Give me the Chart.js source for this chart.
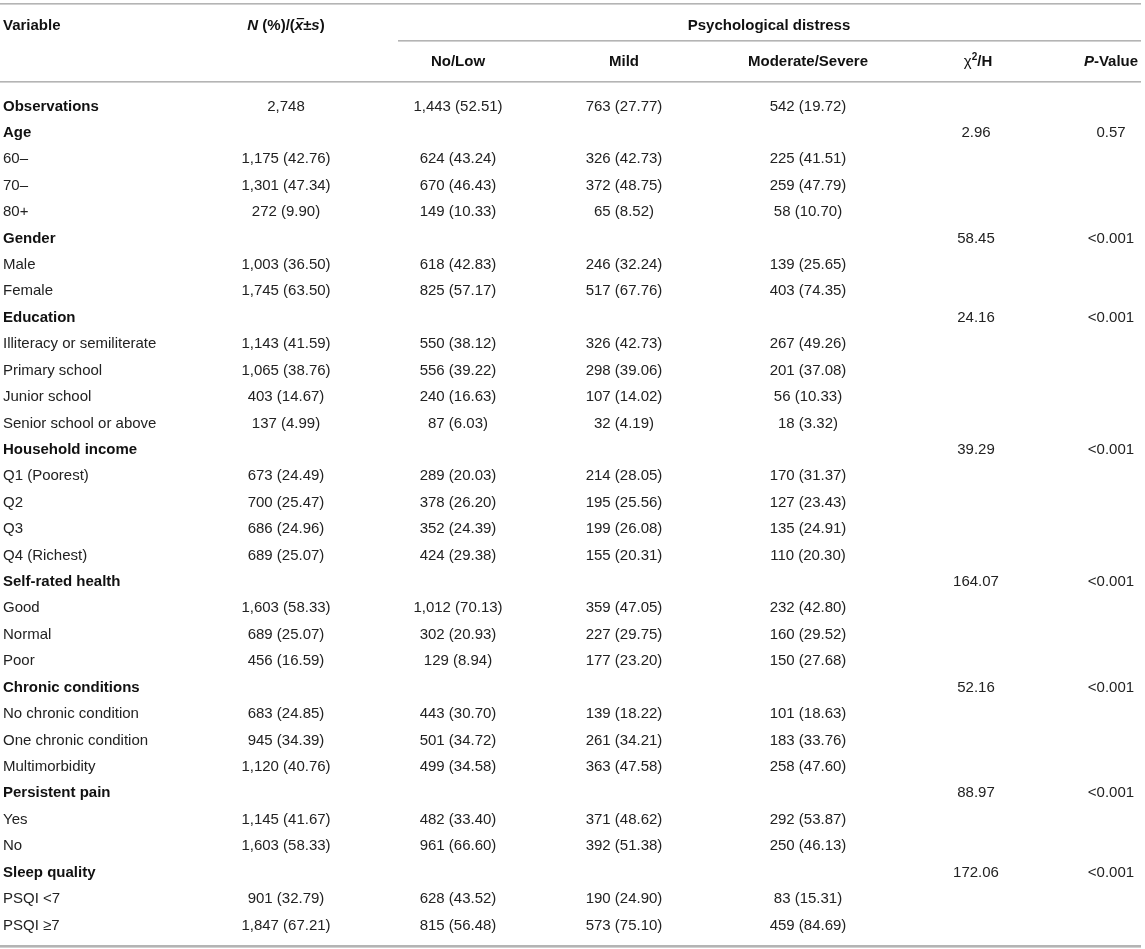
<!DOCTYPE html>
<html>
<head>
<meta charset="utf-8">
<title>Psychological distress by characteristics</title>
<script src="https://cdn.jsdelivr.net/npm/chart.js@4.4.1/dist/chart.umd.min.js"></script>
<style>
  html, body { margin: 0; padding: 0; background: #fff; overflow: hidden; }
  #wrap { width: 1145px; height: 949px; position: relative; }
</style>
</head>
<body>
<div id="wrap"><canvas id="tableChart"></canvas></div>
<script>
// Row labels (first column)
const variables = [
  'Observations', 'Age', '60–', '70–', '80+',
  'Gender', 'Male', 'Female',
  'Education', 'Illiteracy or semiliterate', 'Primary school', 'Junior school', 'Senior school or above',
  'Household income', 'Q1 (Poorest)', 'Q2', 'Q3', 'Q4 (Richest)',
  'Self-rated health', 'Good', 'Normal', 'Poor',
  'Chronic conditions', 'No chronic condition', 'One chronic condition', 'Multimorbidity',
  'Persistent pain', 'Yes', 'No',
  'Sleep quality', 'PSQI <7', 'PSQI ≥7'
];
const sectionRows = ['Observations', 'Age', 'Gender', 'Education', 'Household income',
  'Self-rated health', 'Chronic conditions', 'Persistent pain', 'Sleep quality'];

// N (%) for the whole sample
const totalN = [2748, null, 1175, 1301, 272, null, 1003, 1745, null, 1143, 1065, 403, 137,
  null, 673, 700, 686, 689, null, 1603, 689, 456, null, 683, 945, 1120, null, 1145, 1603, null, 901, 1847];
const totalPct = [null, null, 42.76, 47.34, 9.90, null, 36.50, 63.50, null, 41.59, 38.76, 14.67, 4.99,
  null, 24.49, 25.47, 24.96, 25.07, null, 58.33, 25.07, 16.59, null, 24.85, 34.39, 40.76, null, 41.67, 58.33, null, 32.79, 67.21];

// Psychological distress groups
const lowN = [1443, null, 624, 670, 149, null, 618, 825, null, 550, 556, 240, 87,
  null, 289, 378, 352, 424, null, 1012, 302, 129, null, 443, 501, 499, null, 482, 961, null, 628, 815];
const lowPct = [52.51, null, 43.24, 46.43, 10.33, null, 42.83, 57.17, null, 38.12, 39.22, 16.63, 6.03,
  null, 20.03, 26.20, 24.39, 29.38, null, 70.13, 20.93, 8.94, null, 30.70, 34.72, 34.58, null, 33.40, 66.60, null, 43.52, 56.48];
const mildN = [763, null, 326, 372, 65, null, 246, 517, null, 326, 298, 107, 32,
  null, 214, 195, 199, 155, null, 359, 227, 177, null, 139, 261, 363, null, 371, 392, null, 190, 573];
const mildPct = [27.77, null, 42.73, 48.75, 8.52, null, 32.24, 67.76, null, 42.73, 39.06, 14.02, 4.19,
  null, 28.05, 25.56, 26.08, 20.31, null, 47.05, 29.75, 23.20, null, 18.22, 34.21, 47.58, null, 48.62, 51.38, null, 24.90, 75.10];
const modN = [542, null, 225, 259, 58, null, 139, 403, null, 267, 201, 56, 18,
  null, 170, 127, 135, 110, null, 232, 160, 150, null, 101, 183, 258, null, 292, 250, null, 83, 459];
const modPct = [19.72, null, 41.51, 47.79, 10.70, null, 25.65, 74.35, null, 49.26, 37.08, 10.33, 3.32,
  null, 31.37, 23.43, 24.91, 20.30, null, 42.80, 29.52, 27.68, null, 18.63, 33.76, 47.60, null, 53.87, 46.13, null, 15.31, 84.69];

// Test statistics (only on section rows)
const chiSq = [null, 2.96, null, null, null, 58.45, null, null, 24.16, null, null, null, null,
  39.29, null, null, null, null, 164.07, null, null, null, 52.16, null, null, null, 88.97, null, null, 172.06, null, null];
const pValues = ['', '0.57', '', '', '', '<0.001', '', '', '<0.001', '', '', '', '',
  '<0.001', '', '', '', '', '<0.001', '', '', '', '<0.001', '', '', '', '<0.001', '', '', '<0.001', '', ''];

// Layout (pixels on the x scale, row units on the y scale)
const ROW0 = 105, ROW_H = 26.42;
const W = 1145, H = 949;
const colX = { variable: 3, total: 286, low: 458, mild: 624, mod: 808, chi: 976, p: 1111 };
const rowOf = px => (px - ROW0) / ROW_H;
const FONT = '"Liberation Sans", Arial, Helvetica, sans-serif';
const TEXT = '#222';
const BOLD = '#111';
const RULE = '#b4b4b4';

function fmtCount(n) { return n.toLocaleString('en-US'); }
function cell(n, pct) {
  if (n === null) return '';
  return pct === null ? fmtCount(n) : fmtCount(n) + ' (' + pct.toFixed(2) + ')';
}

function columnData(key, texts) {
  const pts = [];
  texts.forEach((t, i) => { if (t !== '') pts.push({ x: colX[key], y: i, text: t }); });
  return pts;
}

const datasets = [
  { key: 'variable', align: 'left', texts: variables },
  { key: 'total', align: 'center', texts: totalN.map((n, i) => cell(n, totalPct[i])) },
  { key: 'low', align: 'center', texts: lowN.map((n, i) => cell(n, lowPct[i])) },
  { key: 'mild', align: 'center', texts: mildN.map((n, i) => cell(n, mildPct[i])) },
  { key: 'mod', align: 'center', texts: modN.map((n, i) => cell(n, modPct[i])) },
  { key: 'chi', align: 'center', texts: chiSq.map(v => v === null ? '' : v.toFixed(2)) },
  { key: 'p', align: 'center', texts: pValues }
].map(c => ({
  label: c.key,
  align: c.align,
  data: columnData(c.key, c.texts),
  pointRadius: 0,
  pointHoverRadius: 0,
  showLine: false
}));

// draw a line of mixed-style text runs
function drawRuns(ctx, runs, x, y, align) {
  let total = 0;
  runs.forEach(r => { ctx.font = r.font; total += ctx.measureText(r.t).width; });
  let cx = align === 'center' ? x - total / 2 : (align === 'right' ? x - total : x);
  runs.forEach(r => {
    ctx.font = r.font;
    const w = ctx.measureText(r.t).width;
    ctx.fillStyle = r.color || BOLD;
    ctx.fillText(r.t, cx, y + (r.dy || 0));
    if (r.overline) {
      ctx.fillRect(cx + 2, y - 11.5, w - 1, 1.2);
    }
    cx += w;
  });
}

const tablePlugin = {
  id: 'tablePlugin',
  afterDraw(chart) {
    const ctx = chart.ctx;
    const xs = chart.scales.x, ys = chart.scales.y;
    const py = v => ys.getPixelForValue(v);
    const px = v => xs.getPixelForValue(v);
    ctx.save();

    // rules
    ctx.fillStyle = RULE;
    const rule = (x0, x1, y, t) => ctx.fillRect(px(x0), Math.round(py(y) - t / 2), px(x1) - px(x0), t);
    rule(0, 1141, rowOf(4), 1.6);
    rule(398, 1141, rowOf(40.5), 1.6);
    rule(0, 1141, rowOf(82), 1.6);
    rule(0, 1141, rowOf(946), 2.6);

    // header
    ctx.textBaseline = 'alphabetic';
    const B = 'bold 15px ' + FONT, BI = 'italic bold 15px ' + FONT;
    const h1 = py(rowOf(29.5)), h2 = py(rowOf(66));
    drawRuns(ctx, [{ t: 'Variable', font: B }], px(colX.variable), h1, 'left');
    drawRuns(ctx, [
      { t: 'N', font: BI }, { t: ' (%)/(', font: B }, { t: 'x', font: BI, overline: true },
      { t: '±', font: B }, { t: 's', font: BI }, { t: ')', font: B }
    ], px(colX.total), h1, 'center');
    drawRuns(ctx, [{ t: 'Psychological distress', font: B }], px(769), h1, 'center');
    drawRuns(ctx, [{ t: 'No/Low', font: B }], px(colX.low), h2, 'center');
    drawRuns(ctx, [{ t: 'Mild', font: B }], px(colX.mild), h2, 'center');
    drawRuns(ctx, [{ t: 'Moderate/Severe', font: B }], px(colX.mod), h2, 'center');
    drawRuns(ctx, [
      { t: 'χ', font: '15px ' + FONT }, { t: '2', font: 'bold 10px ' + FONT, dy: -6 }, { t: '/H', font: B }
    ], px(978), h2, 'center');
    drawRuns(ctx, [{ t: 'P', font: BI }, { t: '-Value', font: B }], px(colX.p), h2, 'center');

    // body cells, placed at each point element
    chart.data.datasets.forEach((ds, di) => {
      const meta = chart.getDatasetMeta(di);
      ctx.textAlign = ds.align;
      meta.data.forEach((el, k) => {
        const t = ds.data[k].text;
        const bold = di === 0 && sectionRows.includes(t);
        ctx.font = (bold ? 'bold ' : '') + '15px ' + FONT;
        ctx.fillStyle = bold ? BOLD : TEXT;
        ctx.fillText(t, el.x, el.y + 5.5);
      });
    });
    ctx.restore();
  }
};

new Chart(document.getElementById('tableChart'), {
  type: 'scatter',
  data: { datasets },
  options: {
    responsive: true,
    maintainAspectRatio: false,
    animation: false,
    events: [],
    layout: { padding: 0 },
    plugins: { legend: { display: false }, tooltip: { enabled: false } },
    scales: {
      x: { type: 'linear', min: 0, max: W, display: false },
      y: { type: 'linear', reverse: true, min: rowOf(0), max: rowOf(H), display: false }
    }
  },
  plugins: [tablePlugin]
});
</script>
</body>
</html>
